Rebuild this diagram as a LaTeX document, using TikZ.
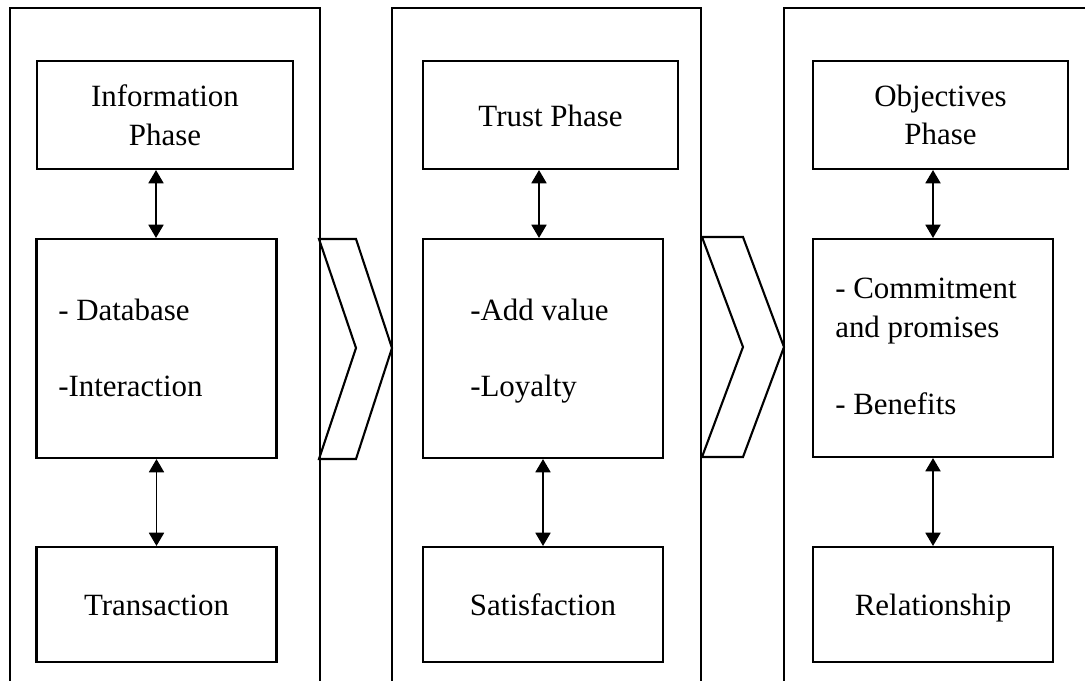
\documentclass[tikz,border=0pt]{standalone}
\usepackage{fontspec}
\setmainfont{Liberation Serif}
\usetikzlibrary{arrows.meta}

\begin{document}
\begin{tikzpicture}[x=0.025cm, y=-0.025cm,
  every node/.style={font=\fontsize{22}{27.5}\selectfont, inner sep=0pt},
  box/.style={draw, line width=1.5pt, align=center},
  one/.style={text height=20pt, text depth=4pt},
  txt/.style={anchor=base west, align=left},
  dbl/.style={{Triangle[length=3.3mm,width=3.8mm]}-{Triangle[length=3.3mm,width=3.8mm]}, line width=0.8pt},
  frame/.style={line width=1.5pt}]
  \path [use as bounding box] (0,0) rectangle (1085,680);
  \clip (0,0) rectangle (1085,680);

  \draw [frame] (10,8) rectangle (320,700);
  \draw [frame] (392,8) rectangle (701,700);
  \draw [frame] (784,8) rectangle (1100,700);

  \draw [frame] (319,239) -- (356,239) -- (392,348) -- (356,459) -- (319,459) -- (356,348) -- cycle;
  \draw [frame] (702,237) -- (743,237) -- (784,347) -- (743,457) -- (702,457) -- (743,347) -- cycle;

  \node [box, minimum width=6.4cm, minimum height=2.7cm] (info) at (165, 115) {Information\\Phase};
  \node [box, minimum width=6cm, minimum height=5.475cm] (mid1) at (156.5, 348.5) {};
  \node [box, one, minimum width=6cm, minimum height=2.875cm] (trans) at (156.5, 604.5) {Transaction};
  \node [txt] (db) at (58, 396) {- Database\\[26pt]-Interaction};

  \node [box, one, minimum width=6.375cm, minimum height=2.7cm] (trust) at (550.5, 115) {Trust Phase};
  \node [box, minimum width=6cm, minimum height=5.475cm] (mid2) at (543, 348.5) {};
  \node [box, one, minimum width=6cm, minimum height=2.875cm] (satis) at (543, 604.5) {Satisfaction};
  \node [txt] (av) at (470, 396) {-Add value\\[26pt]-Loyalty};

  \node [box, minimum width=6.375cm, minimum height=2.7cm] (obj) at (940.5, 115) {Objectives\\Phase};
  \node [box, minimum width=6cm, minimum height=5.45cm] (mid3) at (933, 348) {};
  \node [box, one, minimum width=6cm, minimum height=2.875cm] (rel) at (933, 604.5) {Relationship};
  \node [txt] (cp) at (835, 414) {- Commitment\\and promises\\[27pt]- Benefits};

  \draw [dbl] (mid1.north -| 156,0) -- (info.south -| 156,0);
  \draw [dbl] (mid1.south) -- (trans.north);
  \draw [dbl] (mid2.north -| 539,0) -- (trust.south -| 539,0);
  \draw [dbl] (mid2.south) -- (satis.north);
  \draw [dbl] (mid3.north) -- (obj.south -| mid3.north);
  \draw [dbl] (mid3.south) -- (rel.north);
\end{tikzpicture}
\end{document}
